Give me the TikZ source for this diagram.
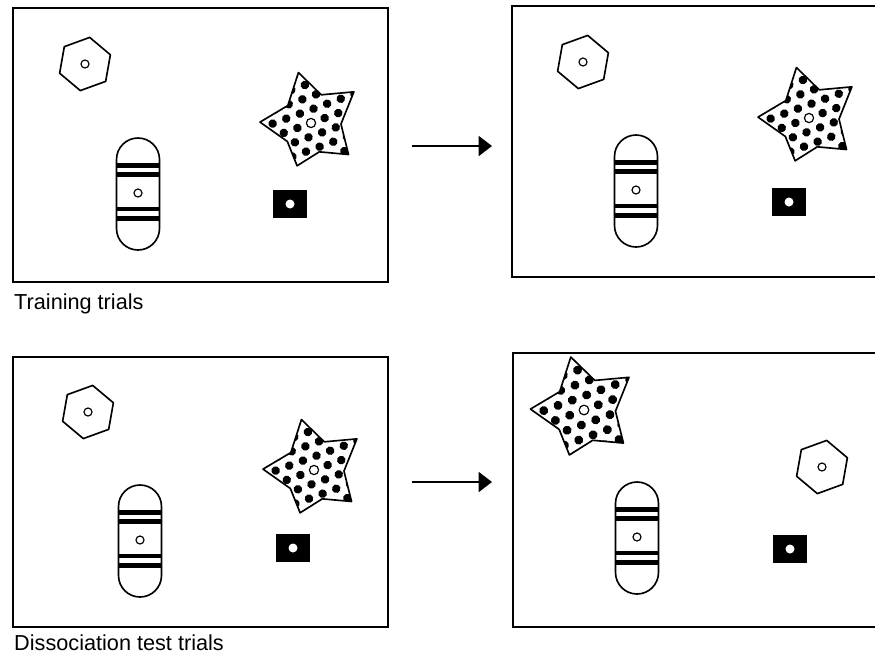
\documentclass[tikz,border=0pt]{standalone}
\usepackage{fontspec}
\setmainfont{Liberation Sans}
\usetikzlibrary{arrows.meta}

% outline of the dotted star, in pixel units
\def\starpath{(-104:52) -- (-70:30) -- (-36:53) -- (2:30) -- (40:49) -- (74:30)
    -- (108:45) -- (142:30) -- (181:51) -- (217:29) -- cycle}

\begin{document}
\begin{tikzpicture}[x=0.03cm, y=-0.03cm,
    panel/.style={rectangle, draw=black, line width=1.5pt, inner sep=0pt},
    outline/.style={draw=black, line width=1.4pt},
    marker/.style={draw=black, line width=1pt, fill=white},
    trial/.style={-{Triangle[length=0.4cm, width=0.6cm]}, line width=1.4pt},
    caption/.style={anchor=base west, inner sep=0pt, font=\fontsize{18.5}{21}\selectfont},
    hexmark/.pic={
        \draw[outline, line join=round] (-80:27) -- (-20:27) -- (40:27) -- (100:27)
            -- (160:27) -- (220:27) -- cycle;
        \draw[marker] (0,0) circle (4);
    },
    capsule/.pic={
        \draw[outline] (-21.5,-34.5) arc (180:360:21.5) -- (21.5,34.5)
            arc (0:180:21.5) -- cycle;
        \foreach \s in {-28.5,-19.5,15,24.5}
            \fill (-21.5,\s-2.4) rectangle (21.5,\s+2.4);
        \draw[marker] (0,-1) circle (4);
    },
    blackbox/.pic={
        \fill (-17,-14) rectangle (17,14);
        \fill[white] (0,0) circle (4.5);
    },
    dotstar/.pic={
        \begin{scope}
            \clip \starpath;
            \fill[white] \starpath;
            \foreach \i in {-5,...,5}
                \foreach \j in {-5,...,5}
                    \fill[rotate=20] (\i*14.5+\j*7.25,\j*12.6) circle (4.3);
        \end{scope}
        \draw[outline, line join=round] \starpath;
        \draw[marker] (0,0) circle (4.6);
    }
    ]
    \clip (0,0) rectangle (875,659);

    % panels
    \node (trainA) [panel, minimum width=11.25cm, minimum height=8.22cm] at (200.5,145) {};
    \node (trainB) [panel, minimum width=11.34cm, minimum height=8.13cm] at (701,141.5) {};
    \node (testA) [panel, minimum width=11.25cm, minimum height=8.1cm] at (200.5,492) {};
    \node (testB) [panel, minimum width=11.31cm, minimum height=8.22cm] at (701.5,490) {};

    % training trials
    \pic at (85,64) {hexmark};
    \pic at (311,123) {dotstar};
    \pic at (138,194) {capsule};
    \pic at (290,204) {blackbox};

    \pic at (583,62) {hexmark};
    \pic at (809,118) {dotstar};
    \pic at (636,191) {capsule};
    \pic at (789,202) {blackbox};

    % dissociation test trials
    \pic at (88,412) {hexmark};
    \pic at (314,470) {dotstar};
    \pic at (140,541) {capsule};
    \pic at (293,548) {blackbox};

    \pic[scale=1.05] at (584,410) {dotstar};
    \pic at (822,467) {hexmark};
    \pic at (637,538) {capsule};
    \pic at (790,549) {blackbox};

    % arrows between panels
    \coordinate (trainOut) at (412,146);
    \coordinate (trainIn) at (492,146);
    \coordinate (testOut) at (412,482);
    \coordinate (testIn) at (492,482);
    \draw[trial] (trainOut) -- (trainIn);
    \draw[trial] (testOut) -- (testIn);

    % captions
    \node (trainLabel) [caption] at (14,309) {Training trials};
    \node (testLabel) [caption] at (14,650) {Dissociation test trials};
\end{tikzpicture}
\end{document}
